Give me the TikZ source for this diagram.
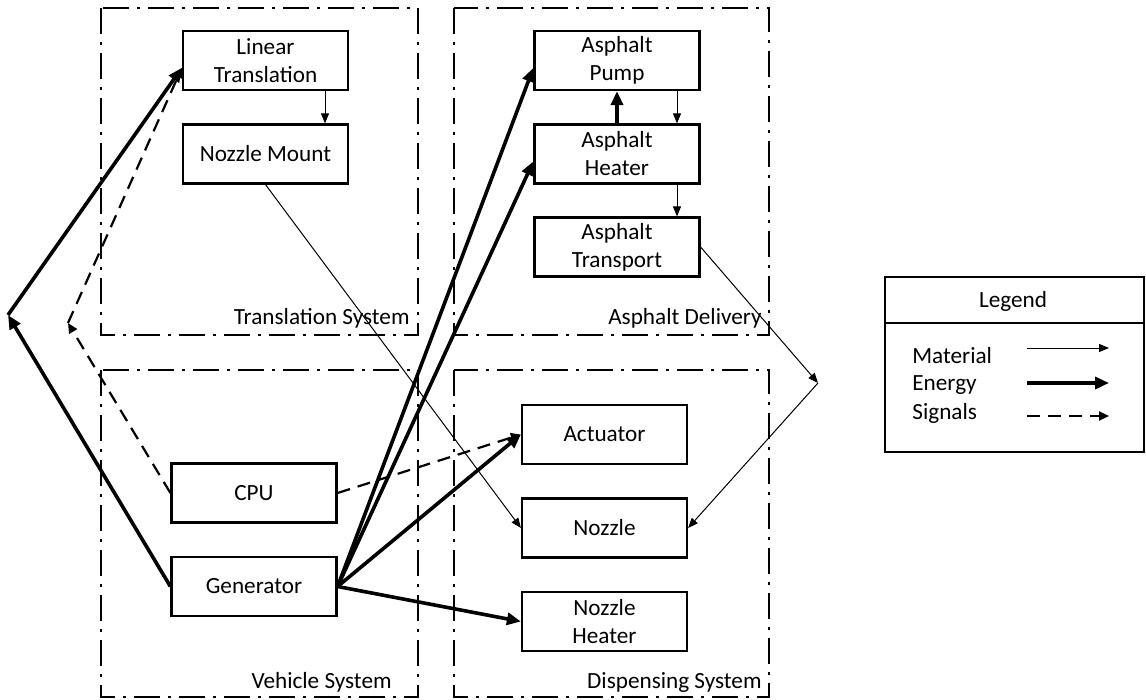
\documentclass[tikz,border=0pt]{standalone}
\usepackage{fontspec}
\setmainfont{Carlito}
\usetikzlibrary{arrows.meta}

\tikzset{
  block/.style={draw,line width=1.1pt,minimum width=82.5pt,minimum height=29.5pt,align=center,inner sep=1pt},
  subsys/.style={line width=1.3pt,dash pattern=on 13pt off 4pt on 1.5pt off 4pt},
  material/.style={line width=0.5pt,-{Triangle[length=5pt,width=4pt]}},
  energy/.style={line width=1.8pt,-{Triangle[length=7pt,width=6pt]}},
  signal/.style={line width=1.1pt,dash pattern=on 6.5pt off 4pt,-{Triangle[length=5pt,width=4.5pt]}},
}

\begin{document}
\begin{tikzpicture}[x=0.5pt,y=-0.5pt,font=\fontsize{11.6}{14}\selectfont]
    \useasboundingbox (0,0) rectangle (1146,700);

    % subsystems
    \draw[subsys] (101,8) rectangle (418,335);
    \draw[subsys] (454,8) rectangle (769,335);
    \draw[subsys] (101,370) rectangle (418,697);
    \draw[subsys] (454,370) rectangle (769,697);
    \node[anchor=base east,inner sep=0] (translbl) at (410,325) {Translation System};
    \node[anchor=base east,inner sep=0] (asphlbl)  at (762,325) {Asphalt Delivery};
    \node[anchor=base east,inner sep=0] (vehlbl)   at (392,688) {Vehicle System};
    \node[anchor=base east,inner sep=0] (displbl)  at (762,688) {Dispensing System};

    % blocks
    \node[block] (lin)   at (265.5,60.5) {Linear\\Translation};
    \node[block] (mount) at (265.5,154)  {Nozzle Mount};
    \node[block] (pump)  at (617,60.5)   {Asphalt\\Pump};
    \node[block] (heat)  at (617,154)    {Asphalt\\Heater};
    \node[block] (trans) at (617,247)    {Asphalt\\Transport};
    \node[block] (cpu)   at (254,493)    {CPU};
    \node[block] (gen)   at (254,586.5)  {Generator};
    \node[block] (act)   at (604.5,434.5) {Actuator};
    \node[block] (noz)   at (604.5,528)  {Nozzle};
    \node[block] (nheat) at (604.5,621.5) {Nozzle\\Heater};

    \coordinate (ebend) at (8,315);
    \coordinate (sbend) at (68,323);
    \coordinate (mbend) at (818,383);

    % material
    \draw[material] ([xshift=29.75pt]lin.south) -- ([xshift=29.75pt]mount.north);
    \draw[material] ([xshift=30pt]pump.south) -- ([xshift=30pt]heat.north);
    \draw[material] ([xshift=30pt]heat.south) -- ([xshift=30pt]trans.north);
    \draw[material] (mount.south) -- (noz.west);
    \draw[material] (trans.east) -- (mbend);
    \draw[material] (mbend) -- (noz.east);

    % energy
    \draw[energy] (heat.north) -- (pump.south);
    \draw[energy] (gen.west) -- (ebend);
    \draw[energy] (ebend) -- (lin.185);
    \draw[energy] (gen.east) -- (pump.185);
    \draw[energy] (gen.east) -- (heat.185);
    \draw[energy] (gen.east) -- (act.west);
    \draw[energy] (gen.east) -- (nheat.west);

    % signals
    \draw[signal] (cpu.west) -- (sbend);
    \draw[signal] (sbend) -- (lin.185);
    \draw[signal] (cpu.east) -- (act.west);

    % legend
    \draw[line width=1.1pt] (885,277) rectangle (1144,452);
    \draw[line width=1.1pt] (885,323) -- (1144,323);
    \node (leghead) at (1013,301) {Legend};
    \node[anchor=west,inner sep=0] (legmat) at (912,356) {Material};
    \node[anchor=west,inner sep=0] (legen)  at (912,385) {Energy};
    \node[anchor=west,inner sep=0] (legsig) at (912,413) {Signals};
    \coordinate (m1) at (1027,348); \coordinate (m2) at (1109,348);
    \coordinate (e1) at (1027,383); \coordinate (e2) at (1109,383);
    \coordinate (s1) at (1027,416); \coordinate (s2) at (1109,416);
    \draw[material] (m1) -- (m2);
    \draw[energy] (e1) -- (e2);
    \draw[signal] (s1) -- (s2);
\end{tikzpicture}
\end{document}
